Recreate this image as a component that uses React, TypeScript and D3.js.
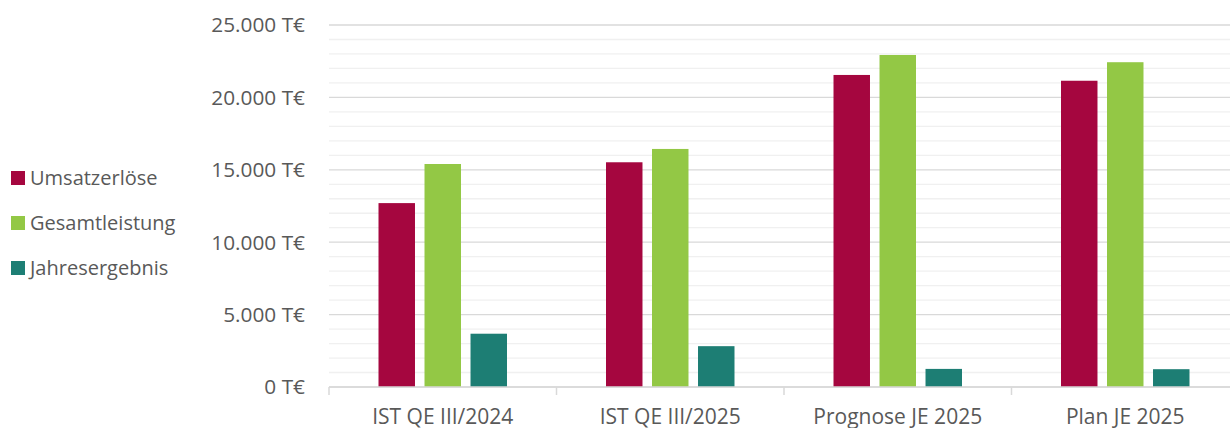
import React from "react";
import * as d3 from "d3";

const categories = ["IST QE III/2024", "IST QE III/2025", "Prognose JE 2025", "Plan JE 2025"];
const seriesNames = ["Umsatzerlöse", "Gesamtleistung", "Jahresergebnis"];
const umsatzerloese = [12700, 15520, 21550, 21150];
const gesamtleistung = [15400, 16440, 22930, 22430];
const jahresergebnis = [3680, 2820, 1250, 1230];
const yTicks = [0, 5000, 10000, 15000, 20000, 25000];
const colors = ["#A5063F", "#93C845", "#1D7E74"];

const W = 1230;
const H = 428;

export default function App() {
  const series = [umsatzerloese, gesamtleistung, jahresergebnis];
  const y = d3.scaleLinear().domain([0, 25000]).range([387, 25]);
  const x = d3.scaleBand<string>().domain(categories).range([329, 329 + 4 * 227.5]).padding(0);
  const xi = d3
    .scaleBand<string>()
    .domain(seriesNames)
    .range([0, x.bandwidth()])
    .paddingInner(0.207)
    .paddingOuter(1.076);
  const minor = d3.range(0, 25001, 1000).filter((v) => v % 5000 !== 0);
  const fmt = (v: number) => d3.format(",")(v).replace(/,/g, ".") + " T€";
  const font = "'Open Sans', sans-serif";
  return (
    <svg width={W} height={H} style={{ position: "absolute", left: 0, top: 0 }}>
      <rect width={W} height={H} fill="#fff" />
      {minor.map((v) => (
        <line key={"m" + v} x1={329} x2={W} y1={y(v)} y2={y(v)} stroke="#f0f0f0" strokeWidth={1.3} />
      ))}
      {yTicks.map((v) => (
        <line key={"g" + v} x1={329} x2={W} y1={y(v)} y2={y(v)} stroke="#d9d9d9" strokeWidth={1.3} />
      ))}
      {yTicks.map((v) => (
        <text
          key={"t" + v}
          x={305}
          y={y(v)}
          dy="0.36em"
          textAnchor="end"
          fontFamily={font}
          fontSize={20.8}
          fill="#595959"
        >
          {fmt(v)}
        </text>
      ))}
      {categories.map((c, ci) =>
        series.map((s, si) => (
          <rect
            key={c + si}
            x={(x(c) as number) + (xi(seriesNames[si]) as number)}
            y={y(s[ci])}
            width={xi.bandwidth()}
            height={y(0) - y(s[ci])}
            fill={colors[si]}
          />
        ))
      )}
      <line x1={329} x2={W} y1={y(0)} y2={y(0)} stroke="#d9d9d9" strokeWidth={1.5} />
      {categories.map((c) => (
        <line
          key={"tk" + c}
          x1={x(c) as number}
          x2={x(c) as number}
          y1={y(0)}
          y2={y(0) + 8}
          stroke="#d9d9d9"
          strokeWidth={1.5}
        />
      ))}
      {categories.map((c) => (
        <text
          key={"xl" + c}
          x={(x(c) as number) + x.bandwidth() / 2}
          y={424}
          textAnchor="middle"
          fontFamily={font}
          fontSize={21}
          fill="#595959"
        >
          {c}
        </text>
      ))}
      {seriesNames.map((n, i) => (
        <g key={"lg" + n} transform={`translate(11, ${178 + i * 45})`}>
          <rect x={0} y={-7} width={14} height={14} fill={colors[i]} />
          <text x={19} y={0} dy="0.36em" fontFamily={font} fontSize={20} fill="#595959">
            {n}
          </text>
        </g>
      ))}
    </svg>
  );
}
